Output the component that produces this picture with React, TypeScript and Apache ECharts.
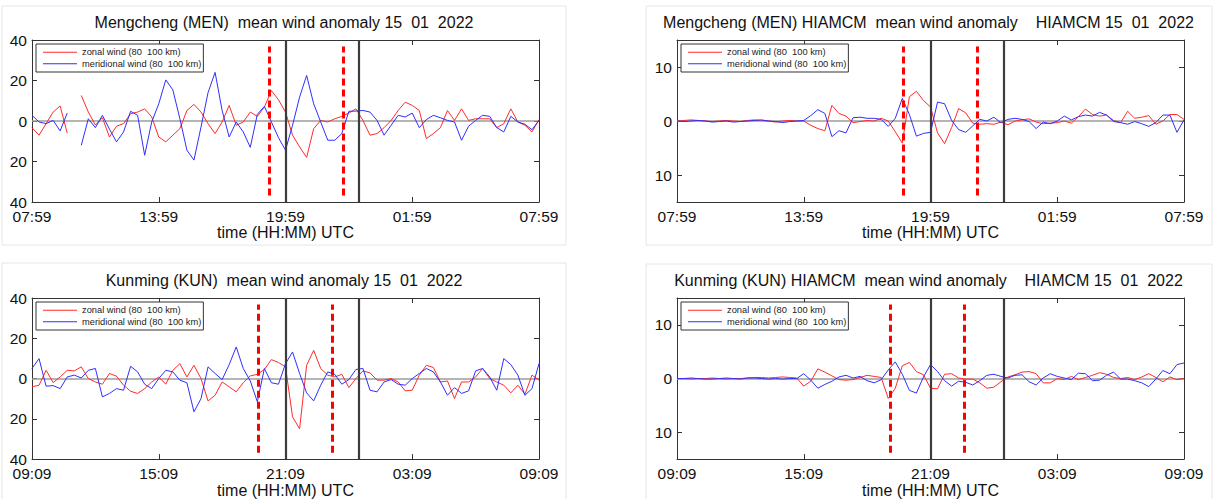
import React, { useEffect, useRef } from "react";
import * as echarts from "echarts";

// ---- data (20-minute samples over 24 h) ----
const SAMPLE_MINUTES = 20;

const menTimeLabels = ["07:59", "13:59", "19:59", "01:59", "07:59"];
const kunTimeLabels = ["09:09", "15:09", "21:09", "03:09", "09:09"];

const obsTicks = [-40, -20, 0, 20, 40];
const modelTicks = [-10, 0, 10];

const solidMarkers = [12.0, 15.49];
const menRedMarkers = [11.23, 14.75];
const menHiRedMarkers = [10.71, 14.23];
const kunRedMarkers = [10.73, 14.23];
const kunHiRedMarkers = [10.08, 13.59];

const menZonal = [
  -3.3, -7, -1.3, 4.4, 7.4, -6, null, 12.6, 4.4, -2, 1.6, -7.9,
  -2.6, -1.3, 3.6, 4.4, 6, 2, -7.9, -10.3, -7, -3.8, 5.2, 8.2,
  4.4, -1.3, -6.2, -0.5, 7.7, -2.1, -0.5, 4.4, 2.3, 6.9, 15, 10.5,
  4.4, -7, -12.8, -18, -3.8, 0.3, -0.5, 1.1, 2.3, 3.9, 6, 0.3,
  -7, -6.2, -3.3, 0.3, 5.2, 9.3, 7.7, 5.2, -8.7, -6.2, -3.3, 5.2,
  0.3, 6, 0.3, 1.1, 1.1, 1.1, -3.3, -1.3, 6, -0.5, -2.1, -5.4,
  0.7,
];
const menMerid = [
  2.8, -0.5, -1.3, 0.3, -4.9, 3.9, null, -12, 1.1, -3.3, 2.8, -4,
  -10.3, -5.4, 4.8, 2.8, -16.9, -0.5, 8.5, 20.3, 15.4, 1.1, -14.4, -19.3,
  -3, 14, 24, 5.2, -7.9, -0.5, -5.4, -13, 3.3, 7.2, -0.5, -8.2,
  -14.4, -2.1, 11.8, 22.5, 8.5, -0.5, -9.5, -9.5, -6.2, 4.8, 4.9, 5.2,
  4.4, 0.3, -7, -2.1, 2.8, 2, 3.9, -3.3, 0.7, 2.8, 1.6, 0.3,
  -0.5, -9.5, -2.6, 0.3, 2.8, 2.3, -3.3, -5.4, 2.3, -0.5, -1.6, -4.3,
  0.3,
];
const menHiZonal = [
  0, 0.1, 0.2, 0.1, 0, -0.1, 0, 0.1, 0, -0.1, 0.1, 0.2,
  0.1, 0, -0.2, 0, 0.1, 0, 0, -0.8, -1.4, -1.8, 2.9, 1.4,
  0.9, -0.3, -0.1, 0.1, 0, 0.5, 0, -2, -4.1, 4.5, 5.5, 3.8,
  2.6, -2.2, -4.2, -1.2, 2.3, 1.5, -0.4, -0.6, -0.5, -0.6, -0.2, -0.7,
  0, 0.2, 0.4, -0.2, -0.5, -0.4, -0.3, 0, -0.4, 0.8, 2.2, 1.2,
  0.9, 1.1, 0.1, -0.3, 1.8, 0.5, 0.7, 1, -0.6, 0, 1.2, 1.2,
  0.3,
];
const menHiMerid = [
  0, -0.1, 0, 0.1, 0, -0.2, -0.1, 0, -0.2, -0.1, 0, 0.1,
  0.2, 0, -0.1, -0.3, -0.1, 0, 0.1, 1, 2.1, 1.4, -2.9, -1.8,
  -2.2, 0.6, 0.7, 0.5, 0.5, 0.3, -1, 0.5, 4.2, 1.2, -2.8, -2.3,
  -2.1, 3.5, 3.2, 0.1, -1.6, -2.1, -0.9, 0.3, 0, 0.7, -0.3, 0.3,
  0.5, 0.3, -0.1, -1.4, -0.2, -0.5, 0, 0.9, 0.2, 0.8, 1.1, 0.9,
  1.6, 1.1, -0.1, -0.3, -0.6, -0.1, -0.5, -1, -0.3, 1.1, 1.1, -2.1,
  0.2,
];
const kunZonal = [
  -4.1, -3.3, 4.1, -2, 0.8, 4.1, 3.8, 5.8, 0, -1.7, -2.8, 2.5,
  1.2, -3.3, -6.3, -7.4, -5, -1.7, 0.8, -2.8, 4.1, 7.4, 0.8, 6.6,
  0, -11.1, -8.3, -1.7, -4.1, -6.6, -2.1, 1.3, 2.1, 4.5, 9.4, 8,
  5.8, -19, -25, 6.6, 14, 5, 1.7, 0.8, 2.1, -4.5, 0, 3.8,
  2.8, -0.8, -0.8, 0, -1.7, -6.1, -5.8, 1.7, 6.6, 5.5, -1.7, -1.2,
  -9.9, -1.7, -1.7, 0.8, 5, 0, -1.7, -3.3, -7.1, -3.3, -7.8, 1.7,
  -0.8,
];
const kunMerid = [
  5, 9.9, -3.8, -3.5, -5, 0.8, 1.7, 0.3, 4.1, 5, -9.1, -7.4,
  -5, -5.8, 6.1, 3.3, -2.8, -5, 0, 4.1, 3.3, -0.8, -2.1, -16.5,
  -10, 5.8, 2.5, -0.5, 6.9, 15.7, 5, -1.2, -11.5, 5, -2.1, -2.8,
  7.4, 13.2, 2.5, -7.1, -11.1, -3.3, 3.3, 2.1, -2.8, -0.5, 4.5, 5,
  -5.8, -6.6, -1.7, -0.5, -2.8, -3.3, 0, 2.5, 5, 3.3, -1.7, -8.3,
  -4.5, -7.4, -6.1, 3.8, 5, 0.8, -5.8, 9.9, 6.9, 1.7, -8.3, -5,
  7.4,
];
const kunHiZonal = [
  0, 0, -0.1, 0, 0, 0.1, 0, -0.1, 0, 0, 0.1, 0.2,
  0.2, 0.1, 0.2, 0.3, 0.2, 0.1, -1.4, -0.5, 1.8, 1.2, 0.5, -0.2,
  -0.3, -0.2, 0.2, 0.6, 0.4, 0.2, -3.7, -1.8, 2.4, 3, 1.3, 0.7,
  -1.8, -1.9, 0.8, 0.9, 0.1, -0.1, -0.1, -0.8, -1.8, -1.6, -0.6, 0.3,
  0.7, 1.2, 1.3, 0.9, -0.8, -0.8, 0, -0.2, 0.4, -0.2, 0.2, 0.6,
  1.1, 0.8, 0.2, 0, 0.2, -0.2, 0.3, 0.9, 0.2, -0.6, 0.3, -0.2,
  0,
];
const kunHiMerid = [
  0, 0, 0.1, 0, -0.1, -0.1, 0, 0.1, 0, -0.1, 0.1, 0.1,
  0, -0.1, 0, -0.1, 0, 0, 0.9, -0.3, -1.8, -1.1, -0.5, 0.3,
  0.6, 0.1, 0.4, -0.4, -0.8, -0.2, 1.6, 3.1, 0.8, -2.2, -2.7, 0.3,
  2.6, 1.3, -0.4, -1.4, -0.5, -0.7, -1.2, -0.4, 0.6, 0.8, 0.4, 0.1,
  0.6, 0.7, -0.6, -1.2, 0.1, 0.9, 0.4, 0.1, -0.2, 1, 0.9, -0.4,
  -0.3, 0.6, 1.2, -0.1, -0.1, -0.4, -0.8, -1.5, -0.1, 1.5, 0.9, 2.6,
  2.9,
];

const ZONAL = "zonal wind (80  100 km)";
const MERID = "meridional wind (80  100 km)";
const FONT = "'Liberation Sans', Arial, Helvetica, sans-serif";

const panels = [
  {
    title: "Mengcheng (MEN)  mean wind anomaly 15  01  2022",
    titleX: 284, titleY: 22,
    grid: { left: 32, top: 40, width: 507, height: 162 },
    zonal: menZonal, merid: menMerid, range: 40, ticks: obsTicks,
    labels: menTimeLabels, red: menRedMarkers,
  },
  {
    title: "Mengcheng (MEN) HIAMCM  mean wind anomaly    HIAMCM 15  01  2022",
    titleX: 928.5, titleY: 22,
    grid: { left: 677, top: 40, width: 507, height: 162 },
    zonal: menHiZonal, merid: menHiMerid, range: 15, ticks: modelTicks,
    labels: menTimeLabels, red: menHiRedMarkers,
  },
  {
    title: "Kunming (KUN)  mean wind anomaly 15  01  2022",
    titleX: 284, titleY: 280.5,
    grid: { left: 32, top: 298, width: 507, height: 163 },
    zonal: kunZonal, merid: kunMerid, range: 40, ticks: obsTicks,
    labels: kunTimeLabels, red: kunRedMarkers,
  },
  {
    title: "Kunming (KUN) HIAMCM  mean wind anomaly    HIAMCM 15  01  2022",
    titleX: 928.5, titleY: 280.5,
    grid: { left: 677, top: 298, width: 507, height: 163 },
    zonal: kunHiZonal, merid: kunHiMerid, range: 15, ticks: modelTicks,
    labels: kunTimeLabels, red: kunHiRedMarkers,
  },
];

function toPairs(values: (number | null)[]) {
  return values.map((v, i) => [(i * SAMPLE_MINUTES) / 60, v === null ? "-" : v]);
}

export default function App() {
  const ref = useRef<HTMLDivElement>(null);
  useEffect(() => {
    if (!ref.current) return;
    const chart = echarts.init(ref.current, null, { renderer: "svg" });
    const axisColor = "#333";
    const xAxes: any[] = [];
    const yAxes: any[] = [];
    const series: any[] = [];
    const legends: any[] = [];
    const graphics: any[] = [
      { type: "rect", shape: { x: 2, y: 6, width: 564, height: 239 }, style: { fill: "none", stroke: "#e6e6e6", lineWidth: 1 }, silent: true },
      { type: "rect", shape: { x: 646, y: 6, width: 566, height: 239 }, style: { fill: "none", stroke: "#e6e6e6", lineWidth: 1 }, silent: true },
      { type: "rect", shape: { x: 2, y: 263, width: 564, height: 245 }, style: { fill: "none", stroke: "#e6e6e6", lineWidth: 1 }, silent: true },
      { type: "rect", shape: { x: 646, y: 264, width: 566, height: 245 }, style: { fill: "none", stroke: "#e6e6e6", lineWidth: 1 }, silent: true },
    ];

    panels.forEach((p, k) => {
      const labels = p.labels;
      const xBase = {
        gridIndex: k, type: "value", min: 0, max: 24, interval: 6,
        axisLine: { show: true, onZero: false, lineStyle: { color: axisColor, width: 1 } },
        axisTick: { show: true, inside: true, length: 5, lineStyle: { color: axisColor } },
        splitLine: { show: false },
      };
      xAxes.push({
        ...xBase, position: "bottom",
        axisLabel: {
          show: true, margin: 6, fontSize: 15.5, color: "#111", fontFamily: FONT,
          showMinLabel: true, showMaxLabel: true,
          formatter: (v: number) => labels[Math.round(v / 6)],
        },
        name: "time (HH:MM) UTC", nameLocation: "middle", nameGap: 22,
        nameTextStyle: { fontSize: 16, color: "#111", fontFamily: FONT },
      });
      xAxes.push({ ...xBase, position: "top", axisLabel: { show: false } });

      const yBase = {
        gridIndex: k, type: "value", min: -p.range, max: p.range,
        interval: p.range === 40 ? 20 : 5,
        axisLine: { show: true, onZero: false, lineStyle: { color: axisColor, width: 1 } },
        axisTick: { show: true, inside: true, length: 5, customValues: p.ticks, lineStyle: { color: axisColor } },
        splitLine: { show: false },
      };
      yAxes.push({
        ...yBase, position: "left",
        axisLabel: {
          show: true, margin: 5, fontSize: 15.5, color: "#111", fontFamily: FONT,
          customValues: p.ticks,
          formatter: (v: number) => String(Math.abs(v)),
        },
      });
      yAxes.push({ ...yBase, position: "right", axisLabel: { show: false } });

      const R = p.range;
      series.push({
        type: "line", name: ZONAL, xAxisIndex: 2 * k, yAxisIndex: 2 * k,
        data: toPairs(p.zonal), showSymbol: false, symbol: "none",
        lineStyle: { color: "#ff2b2b", width: 1 }, itemStyle: { color: "#ff2b2b" },
        z: 3,
        markLine: {
          silent: true, symbol: ["none", "none"], label: { show: false },
          lineStyle: { color: "#9c9c9c", width: 1.5, type: "solid" },
          data: [{ yAxis: 0 }],
          z: 1,
        },
      });
      series.push({
        type: "line", name: MERID, xAxisIndex: 2 * k, yAxisIndex: 2 * k,
        data: toPairs(p.merid), showSymbol: false, symbol: "none",
        lineStyle: { color: "#2f2fff", width: 1 }, itemStyle: { color: "#2f2fff" },
        z: 4,
        markLine: {
          silent: true, symbol: ["none", "none"], label: { show: false },
          data: [
            ...solidMarkers.map((x) => ({ xAxis: x, lineStyle: { color: "#3c3c3c", width: 2.2, type: "solid" } })),
            ...p.red.map((x) => [
              { coord: [x, -0.92 * R], lineStyle: { color: "#ff0000", width: 3, type: [7, 4] } },
              { coord: [x, 0.92 * R] },
            ]),
          ],
        },
      });

      legends.push({
        left: p.grid.left + 4, top: p.grid.top + 4, orient: "vertical",
        data: [ZONAL, MERID], icon: "rect", itemWidth: 34, itemHeight: 1, itemGap: 1,
        padding: [3, 2, 3, 7], backgroundColor: "#fff", borderColor: "#333", borderWidth: 1,
        borderRadius: 0, selectedMode: false,
        textStyle: { fontSize: 9.3, color: "#222", fontFamily: FONT, lineHeight: 10.5 },
      });

      graphics.push({
        type: "text", x: p.titleX, y: p.titleY, silent: true,
        style: { text: p.title, align: "center", verticalAlign: "middle", fontSize: 16, fill: "#111", fontFamily: FONT },
      });
    });

    chart.setOption({
      animation: false,
      backgroundColor: "#ffffff",
      grid: panels.map((p) => ({ ...p.grid, containLabel: false })),
      xAxis: xAxes,
      yAxis: yAxes,
      legend: legends,
      series,
      graphic: graphics,
    });
    return () => chart.dispose();
  }, []);
  return (
    <div
      ref={ref}
      style={{ position: "absolute", left: 0, top: 0, width: 1215, height: 499, background: "#fff" }}
    />
  );
}
